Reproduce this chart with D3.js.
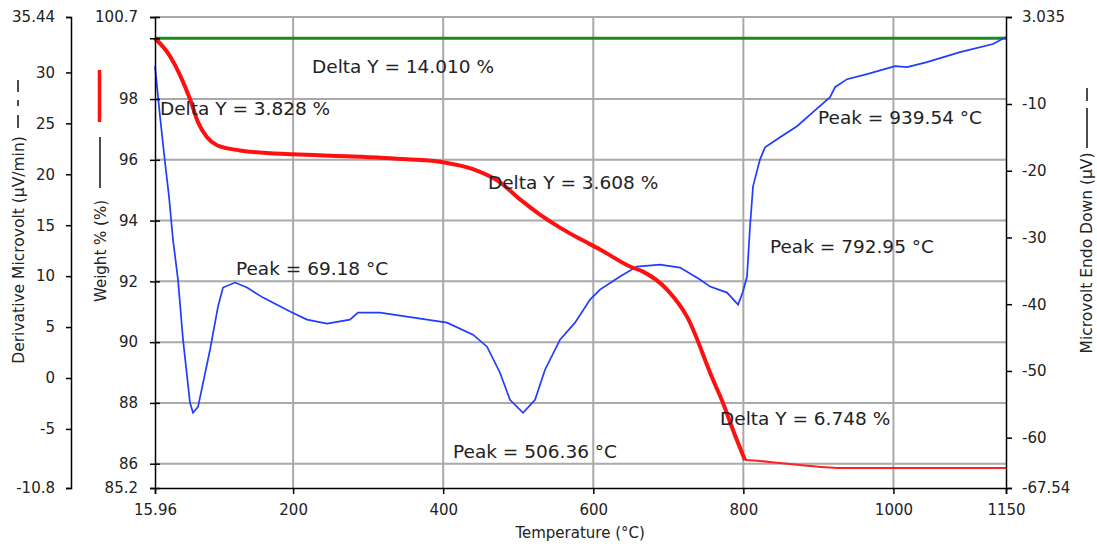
<!DOCTYPE html>
<html>
<head>
<meta charset="utf-8">
<script src="https://cdn.jsdelivr.net/npm/d3@7"></script>
<style>
  body { margin: 0; background: #fff; }
  svg text { font-family: "DejaVu Sans", sans-serif; fill: #222; }
</style>
</head>
<body>
<svg id="chart" width="1097" height="547"></svg>
<script>
// Weight % curve (red), temperature in °C
const weightTemp = [15.96, 36, 49.3, 62.6, 73.3, 85.3, 98.6, 129.2, 199.9, 271.8, 351.8, 399.8, 439.7, 475.7,
  502.4, 529.0, 555.7, 582.0, 609.0, 648.9, 666.3, 698.3, 724.9, 759.6, 772.9, 786.2, 802.2,
  822.2, 848.8, 875.5, 932.8, 1150];
const weightVal = [100.0, 99.41, 98.79, 98.0, 97.24, 96.74, 96.48, 96.31, 96.18, 96.12, 96.02, 95.92, 95.69, 95.26,
  94.70, 94.20, 93.77, 93.40, 93.05, 92.49, 92.32, 91.73, 90.84, 88.76, 88.0, 87.11, 86.12,
  86.09, 86.02, 85.96, 85.86, 85.86];
const weightThickEnd = 26; // index where the thick part stops

// Microvolt Endo Down curve (blue)
const dscTemp = [15.96, 22.6, 29.3, 34.6, 39.9, 46.6, 53.3, 62.6, 66.6, 73.3, 89.3, 99.9, 106.6, 122.6, 138.6,
  159.9, 195.9, 218.5, 245.2, 275.8, 286.5, 315.8, 378.4, 405.1, 439.7, 458.4, 475.7, 489.0, 506.4,
  522.4, 535.7, 555.7, 575.7, 595.7, 609.0, 635.6, 658.3, 688.9, 715.6, 742.2, 755.6, 778.2, 793.0,
  799.5, 804.9, 808.9, 812.9, 822.2, 828.9, 848.9, 871.5, 892.8, 915.5, 922.2, 938.2, 964.8, 1002.1,
  1018.1, 1044.8, 1088.7, 1132.7, 1150];
const dscVal = [-4.32, -11.83, -18.74, -23.84, -30.30, -36.31, -45.32, -54.78, -56.28, -55.38, -46.82, -40.36, -37.51, -36.76, -37.51,
  -39.01, -41.11, -42.31, -42.91, -42.31, -41.26, -41.26, -42.31, -42.76, -44.56, -46.37, -50.27, -54.33, -56.28,
  -54.33, -49.82, -45.32, -42.76, -39.31, -37.81, -35.86, -34.36, -34.06, -34.51, -36.31, -37.36, -38.26, -40.06,
  -38.11, -35.86, -28.35, -22.34, -18.29, -16.49, -14.98, -13.33, -11.23, -8.98, -7.48, -6.28, -5.52, -4.32,
  -4.47, -3.72, -2.22, -1.02, 0.03];

// Delta Y reference level (green)
const startWeight = 100.0;

// axis ticks
const xTicks = [15.96, 200, 400, 600, 800, 1000, 1150];
const weightTicks = [100.7, 98, 96, 94, 92, 90, 88, 86, 85.2];
const weightGrid = [98, 96, 94, 92, 90, 88, 86];
const derivTicks = [35.44, 30, 25, 20, 15, 10, 5, 0, -5, -10.8];
const microTicks = [3.035, -10, -20, -30, -40, -50, -60, -67.54];

// annotations: text, temperature, weight
const annoText = ["Delta Y = 14.010 %", "Delta Y = 3.828 %", "Delta Y = 3.608 %", "Peak = 69.18 °C",
  "Peak = 792.95 °C", "Peak = 506.36 °C", "Delta Y = 6.748 %", "Peak = 939.54 °C"];
const annoTemp = [225.2, 22.6, 459.7, 123.9, 835.5, 413.1, 768.9, 899.5];
const annoWeight = [98.85, 97.47, 95.03, 92.22, 92.92, 86.19, 87.28, 97.17];

const svg = d3.select('#chart');
const L = 155, R = 1006, T = 17, B = 488;

const x = d3.scaleLinear().domain([15.96, 1150]).range([L, R]);
const yW = d3.scaleLinear().domain([85.2, 100.7]).range([B, T]);
const yD = d3.scaleLinear().domain([-10.8, 35.44]).range([B, T]);
const yM = d3.scaleLinear().domain([-67.54, 3.035]).range([B, T]);

const gridColor = '#a9a9a9';

// grid
const grid = svg.append('g');
grid.selectAll('.vg').data(xTicks.slice(1, -1)).enter().append('line')
  .attr('x1', d => x(d)).attr('x2', d => x(d)).attr('y1', T).attr('y2', B)
  .attr('stroke', gridColor).attr('stroke-width', 2);
grid.selectAll('.hg').data(weightGrid).enter().append('line')
  .attr('x1', L).attr('x2', R).attr('y1', d => yW(d)).attr('y2', d => yW(d))
  .attr('stroke', gridColor).attr('stroke-width', 2);
grid.append('line').attr('x1', L).attr('x2', R).attr('y1', T).attr('y2', T)
  .attr('stroke', gridColor).attr('stroke-width', 2);

// green reference line
svg.append('line')
  .attr('x1', x(15.96)).attr('x2', x(1150))
  .attr('y1', yW(startWeight)).attr('y2', yW(startWeight))
  .attr('stroke', '#1c8a1c').attr('stroke-width', 3);

// blue DSC curve
const dscPts = dscTemp.map((t, i) => [t, dscVal[i]]);
svg.append('path')
  .attr('d', d3.line().x(d => x(d[0])).y(d => yM(d[1]))(dscPts))
  .attr('fill', 'none').attr('stroke', '#1f3cff').attr('stroke-width', 1.7);

// red weight curve
const wPts = weightTemp.map((t, i) => [t, weightVal[i]]);
const wLine = d3.line().x(d => x(d[0])).y(d => yW(d[1])).curve(d3.curveMonotoneX);
svg.append('path')
  .attr('d', wLine(wPts.slice(weightThickEnd)))
  .attr('fill', 'none').attr('stroke', '#ff2020').attr('stroke-width', 2);
svg.append('path')
  .attr('d', wLine(wPts.slice(0, weightThickEnd + 1)))
  .attr('fill', 'none').attr('stroke', '#ff1010').attr('stroke-width', 4)
  .attr('stroke-linejoin', 'round');

// annotations
svg.append('g').selectAll('text').data(annoText).enter().append('text')
  .attr('x', (d, i) => x(annoTemp[i]))
  .attr('y', (d, i) => yW(annoWeight[i]))
  .attr('font-size', 18.5)
  .text(d => d);

// axes
function styleAxis(g) {
  g.select('.domain').attr('stroke', '#000').attr('stroke-width', 1.5);
  g.selectAll('.tick line').attr('stroke', '#000').attr('stroke-width', 1.5);
  g.selectAll('.tick text').attr('font-size', 15).attr('fill', '#222')
    .style('font-family', '"DejaVu Sans", sans-serif');
}

svg.append('g').attr('transform', `translate(0,${B})`)
  .call(d3.axisBottom(x).tickValues(xTicks).tickFormat(d => d).tickSizeOuter(0).tickSize(6).tickPadding(10))
  .call(styleAxis);

const wAxis = svg.append('g').attr('transform', `translate(${L},0)`)
  .call(d3.axisLeft(yW).tickValues(weightTicks.concat([100])).tickFormat(d => d === 100 ? '' : d)
    .tickSizeOuter(0).tickSize(5).tickPadding(12))
  .call(styleAxis);
wAxis.selectAll('.tick line').attr('x2', 5).attr('x1', -5);

svg.append('g').attr('transform', `translate(71,0)`)
  .call(d3.axisLeft(yD).tickValues(derivTicks).tickFormat(d => d).tickSizeOuter(0).tickSize(5).tickPadding(11))
  .call(styleAxis);

svg.append('g').attr('transform', `translate(${R},0)`)
  .call(d3.axisRight(yM).tickValues(microTicks).tickFormat(d => d).tickSizeOuter(0).tickSize(6).tickPadding(10))
  .call(styleAxis);

// axis titles
svg.append('text').attr('x', x(582.5)).attr('y', 538).attr('text-anchor', 'middle')
  .attr('font-size', 15).text('Temperature (°C)');

svg.append('text').attr('transform', 'translate(24,250) rotate(-90)')
  .attr('text-anchor', 'middle').attr('font-size', 15.5).text('Derivative Microvolt (µV/min)');
svg.append('line').attr('x1', 18).attr('x2', 18).attr('y1', 128).attr('y2', 80)
  .attr('stroke', '#111').attr('stroke-width', 1.5).attr('stroke-dasharray', '13,9,6,8,12,100');

svg.append('text').attr('transform', 'translate(106,251) rotate(-90)')
  .attr('text-anchor', 'middle').attr('font-size', 15).text('Weight % (%)');
svg.append('line').attr('x1', 100).attr('x2', 100).attr('y1', 188).attr('y2', 137)
  .attr('stroke', '#111').attr('stroke-width', 1.5);
svg.append('line').attr('x1', 99.5).attr('x2', 99.5).attr('y1', 122).attr('y2', 70)
  .attr('stroke', '#ff1010').attr('stroke-width', 3.5);

svg.append('text').attr('transform', 'translate(1092,253) rotate(-90)')
  .attr('text-anchor', 'middle').attr('font-size', 15.5).text('Microvolt Endo Down (µV)');
svg.append('line').attr('x1', 1087).attr('x2', 1087).attr('y1', 148).attr('y2', 108)
  .attr('stroke', '#111').attr('stroke-width', 1.5);
svg.append('line').attr('x1', 1087).attr('x2', 1087).attr('y1', 101).attr('y2', 88)
  .attr('stroke', '#111').attr('stroke-width', 1.5);
</script>
</body>
</html>
